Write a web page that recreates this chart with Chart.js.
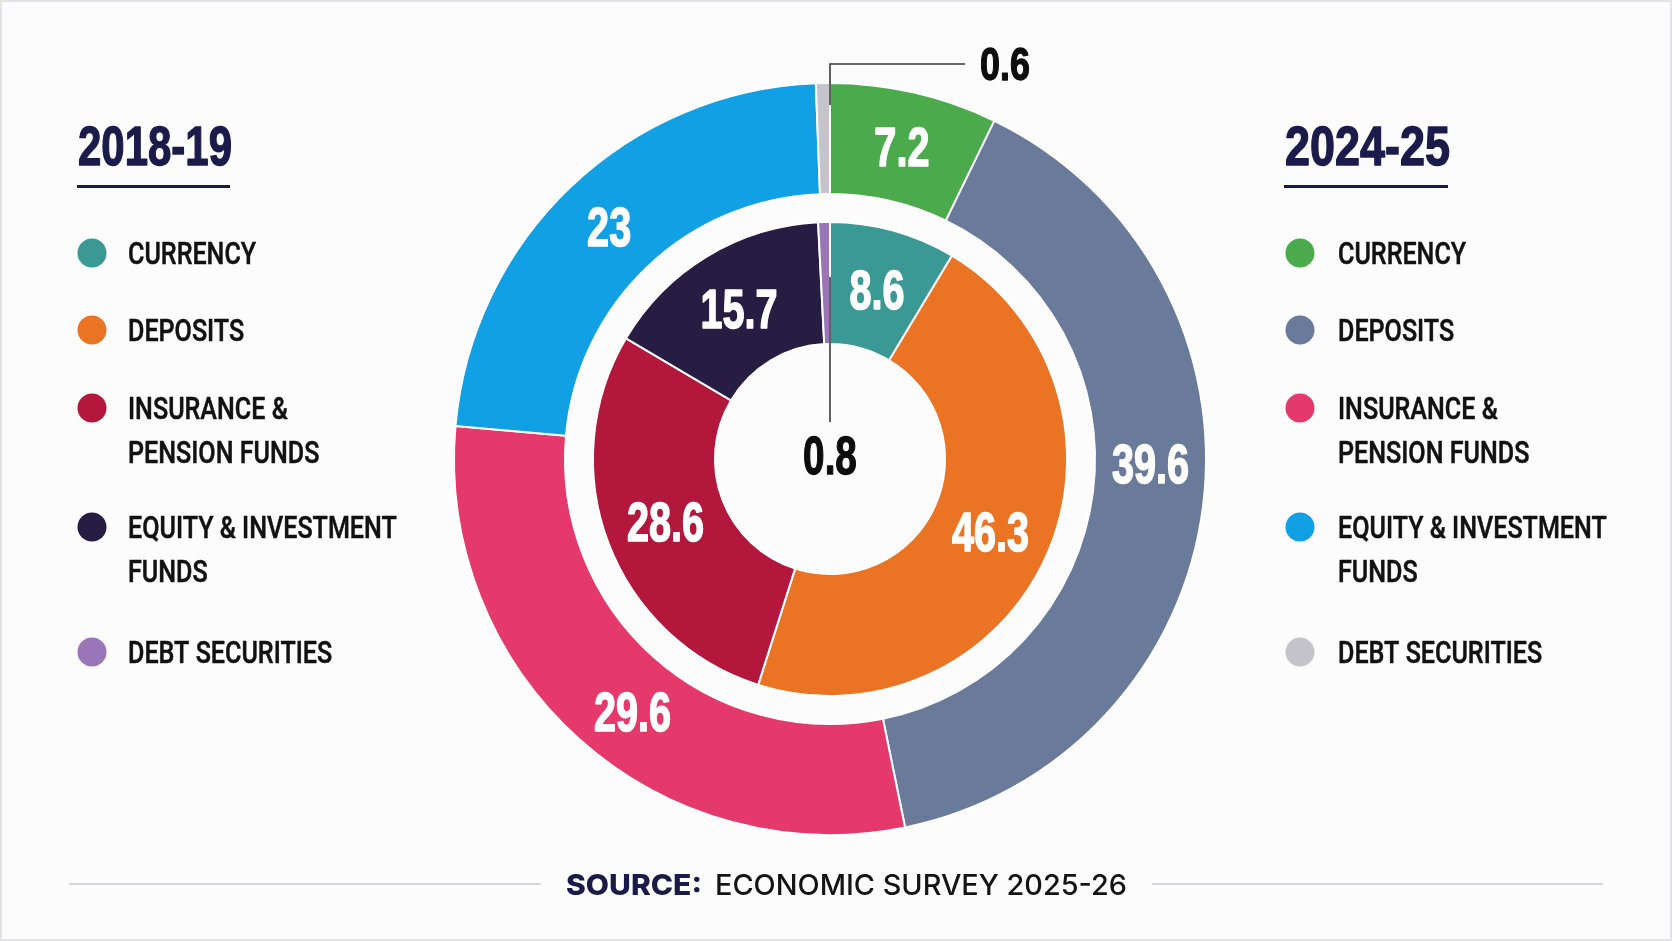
<!DOCTYPE html>
<html>
<head>
<meta charset="utf-8">
<script src="https://cdn.jsdelivr.net/npm/chart.js@4.4.1/dist/chart.umd.min.js"></script>
<style>
  html, body { margin: 0; padding: 0; background: #fcfcfd; }
  #wrap { position: relative; width: 1672px; height: 941px; overflow: hidden; }
  #frame { position: absolute; left: 0; top: 0; width: 1672px; height: 941px; box-sizing: border-box; border: 2px solid #e3e3e7; pointer-events: none; }
  canvas { display: block; }
</style>
</head>
<body>
<div id="wrap">
  <canvas id="c" width="1672" height="941"></canvas>
  <div id="frame"></div>
</div>
<script>
// ---- data ----
const categories = ['CURRENCY', 'DEPOSITS', 'INSURANCE & PENSION FUNDS', 'EQUITY & INVESTMENT FUNDS', 'DEBT SECURITIES'];
const legendLines = [['CURRENCY'], ['DEPOSITS'], ['INSURANCE &', 'PENSION FUNDS'], ['EQUITY & INVESTMENT', 'FUNDS'], ['DEBT SECURITIES']];
const years = ['2018-19', '2024-25'];
const values2018 = [8.6, 46.3, 28.6, 15.7, 0.8];
const values2024 = [7.2, 39.6, 29.6, 23, 0.6];
const colors2018 = ['#3a9994', '#ea7424', '#b3173b', '#271c42', '#9a76b9'];
const colors2024 = ['#4aaa4c', '#6a7a9b', '#e6396b', '#10a0e3', '#c4c4ca'];
const sourceLabel = 'SOURCE:';
const sourceText = 'ECONOMIC SURVEY 2025-26';

// label placement along each arc (fraction of the arc's sweep)
const labelFrac2024 = [0.5, 0.455, 0.465, 0.5, 0.5];
const labelFrac2018 = [0.5, 0.5, 0.5, 0.5, 0.5];

const NAVY = '#1b1b4b';
const NUM_FONT = "'Liberation Sans', Arial, sans-serif";

function scaledText(ctx, text, x, y, sx, align, stroke) {
  ctx.save();
  ctx.translate(x, y);
  ctx.scale(sx, 1);
  ctx.textAlign = align || 'left';
  if (stroke) { ctx.lineWidth = stroke; ctx.lineJoin = 'round'; ctx.strokeStyle = ctx.fillStyle; ctx.strokeText(text, 0, 0); }
  ctx.fillText(text, 0, 0);
  ctx.restore();
}

const overlay = {
  id: 'overlay',
  afterDatasetsDraw(chart) {
    const ctx = chart.ctx;
    const rings = [
      { meta: chart.getDatasetMeta(0), values: values2024, frac: labelFrac2024, outer: true },
      { meta: chart.getDatasetMeta(2), values: values2018, frac: labelFrac2018, outer: false }
    ];
    ctx.save();
    rings.forEach(ring => {
      ring.meta.data.forEach((arc, i) => {
        const p = arc.getProps(['x', 'y', 'startAngle', 'endAngle', 'innerRadius', 'outerRadius'], true);
        const v = ring.values[i];
        const midR = (p.innerRadius + p.outerRadius) / 2;
        if (v >= 2) {
          const a = p.startAngle + (p.endAngle - p.startAngle) * ring.frac[i];
          const x = p.x + Math.cos(a) * midR;
          const y = p.y + Math.sin(a) * midR;
          const size = 55;
          ctx.font = `bold ${size}px ${NUM_FONT}`;
          ctx.fillStyle = '#ffffff';
          scaledText(ctx, String(v), x, y + size * 0.716 / 2, 0.72, 'center', 1.6);
        } else {
          ctx.strokeStyle = '#3a3a3a';
          ctx.lineWidth = 1.6;
          const lx = p.x + Math.cos(p.endAngle) * p.outerRadius;
          if (ring.outer) {
            const y0 = p.y - p.outerRadius + 22;
            const y1 = p.y - p.outerRadius - 19;
            ctx.beginPath();
            ctx.moveTo(lx, y0); ctx.lineTo(lx, y1); ctx.lineTo(lx + 135, y1);
            ctx.stroke();
            const size = 46;
            ctx.font = `bold ${size}px ${NUM_FONT}`;
            ctx.fillStyle = '#0d0d0d';
            scaledText(ctx, String(v), lx + 150, y1 + size * 0.716 / 2, 0.78, 'left', 1.3);
          } else {
            const y0 = p.y - midR - 6;
            const y1 = p.y - 37;
            ctx.beginPath();
            ctx.moveTo(lx, y0); ctx.lineTo(lx, y1);
            ctx.stroke();
            const size = 53;
            ctx.font = `bold ${size}px ${NUM_FONT}`;
            ctx.fillStyle = '#0d0d0d';
            scaledText(ctx, String(v), p.x, p.y + size * 0.716 / 2 - 4, 0.73, 'center', 1.3);
          }
        }
      });
    });
    ctx.restore();
  },
  afterDraw(chart) {
    const ctx = chart.ctx;
    ctx.save();
    // side panels
    const panels = [
      { year: years[0], colors: colors2018, tx: 78, tw: 154, cx: 92, lx: 128, ulEnd: 230 },
      { year: years[1], colors: colors2024, tx: 1285, tw: 165, cx: 1300, lx: 1338, ulEnd: 1448 }
    ];
    const rowY = [253, 330, 408, 527, 652];
    panels.forEach(pn => {
      ctx.font = `bold 56px ${NUM_FONT}`;
      ctx.fillStyle = NAVY;
      const tw = ctx.measureText(pn.year).width;
      scaledText(ctx, pn.year, pn.tx, 165, pn.tw / tw, 'left', 1.4);
      ctx.fillStyle = NAVY;
      ctx.fillRect(pn.tx - 1, 185, pn.ulEnd - pn.tx + 1, 3);
      legendLines.forEach((lines, i) => {
        ctx.fillStyle = pn.colors[i];
        ctx.beginPath();
        ctx.arc(pn.cx, rowY[i], 14.5, 0, Math.PI * 2);
        ctx.fill();
        ctx.fillStyle = '#111111';
        ctx.font = "500 31px Roboto, 'Liberation Sans', sans-serif";
        lines.forEach((t, j) => {
          scaledText(ctx, t, pn.lx, rowY[i] + j * 44 + 11, 0.81, 'left', 0.5);
        });
      });
    });
    // source line
    const sy = 884;
    ctx.strokeStyle = '#c8cad8';
    ctx.lineWidth = 1.6;
    ctx.beginPath();
    ctx.moveTo(69, sy); ctx.lineTo(541, sy);
    ctx.moveTo(1152, sy); ctx.lineTo(1603, sy);
    ctx.stroke();
    ctx.font = "800 29px Inter, 'Open Sans', sans-serif";
    ctx.fillStyle = NAVY;
    let w = ctx.measureText(sourceLabel).width;
    scaledText(ctx, sourceLabel, 566, sy + 10.5, 136 / w, 'left');
    ctx.font = "500 29px Inter, 'Open Sans', sans-serif";
    ctx.fillStyle = '#141414';
    w = ctx.measureText(sourceText).width;
    scaledText(ctx, sourceText, 715, sy + 10.5, 412 / w, 'left');
    ctx.restore();
  }
};

new Chart(document.getElementById('c'), {
  type: 'doughnut',
  data: {
    labels: categories,
    datasets: [
      { label: years[1], data: values2024, backgroundColor: colors2024, borderColor: '#ffffff', borderWidth: 2, weight: 111 },
      { label: 'gap', data: [1], backgroundColor: 'rgba(0,0,0,0)', borderColor: 'rgba(0,0,0,0)', borderWidth: 0, weight: 28 },
      { label: years[0], data: values2018, backgroundColor: colors2018, borderColor: '#ffffff', borderWidth: 2, weight: 122 }
    ]
  },
  options: {
    responsive: false,
    animation: false,
    radius: 376,
    cutout: '30.6%',
    rotation: 0,
    layout: { padding: { left: 450, right: 462, top: 79, bottom: 102 } },
    plugins: { legend: { display: false }, tooltip: { enabled: false } },
    events: []
  },
  plugins: [overlay]
});
</script>
</body>
</html>
